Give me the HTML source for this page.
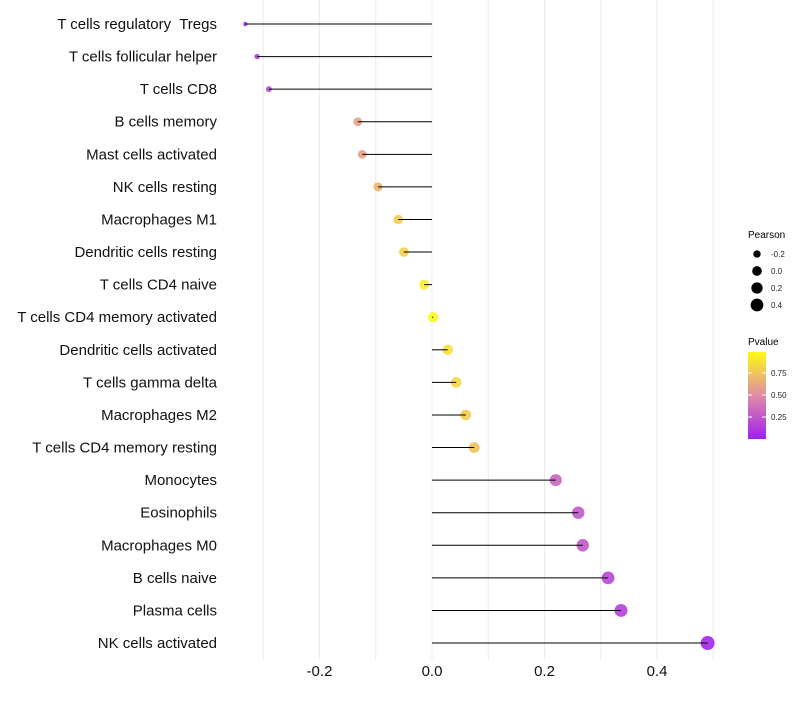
<!DOCTYPE html>
<html><head><meta charset="utf-8"><style>
body{margin:0;background:#fff;}
svg text{font-family:"Liberation Sans",sans-serif;white-space:pre;}
</style></head><body>
<svg id="chart" width="800" height="700"></svg>
<script>
const categories=["T cells regulatory  Tregs","T cells follicular helper","T cells CD8","B cells memory","Mast cells activated","NK cells resting","Macrophages M1","Dendritic cells resting","T cells CD4 naive","T cells CD4 memory activated","Dendritic cells activated","T cells gamma delta","Macrophages M2","T cells CD4 memory resting","Monocytes","Eosinophils","Macrophages M0","B cells naive","Plasma cells","NK cells activated"];
const pearson=[-0.332,-0.311,-0.29,-0.132,-0.124,-0.096,-0.06,-0.05,-0.014,0.002,0.028,0.043,0.06,0.075,0.22,0.26,0.268,0.313,0.336,0.49];
const pvalue=[0.12,0.14,0.2,0.6,0.6,0.68,0.8,0.82,0.95,0.99,0.88,0.84,0.8,0.75,0.32,0.26,0.27,0.18,0.15,0.03];
const xTicks=[-0.2,0,0.2,0.4];
const xTickLabels=["-0.2","0.0","0.2","0.4"];
const sizeLegend=[-0.2,0.0,0.2,0.4];
const sizeLegendLabels=["-0.2","0.0","0.2","0.4"];
const colorTicks=[0.25,0.5,0.75];
const colorTickLabels=["0.25","0.50","0.75"];

const NS="http://www.w3.org/2000/svg";
const svg=document.getElementById('chart');
const x=v=>432+v*562.5;
const y=i=>24+i*32.58;
const r=v=>1.7+5.3*Math.sqrt(Math.max(0,(v+0.34)/0.83));
function lerp(a,b,t){return a+(b-a)*t;}
function col(p){
  const s=[[0,[160,32,240]],[0.5,[223,140,165]],[1,[255,250,20]]];
  let k=p<0.5?0:1; const t=(p-s[k][0])/0.5;
  const c=s[k][1].map((v,j)=>Math.round(lerp(v,s[k+1][1][j],t)));
  return `rgb(${c.join(',')})`;
}
function el(tag,attrs,parent){const e=document.createElementNS(NS,tag);for(const k in attrs)e.setAttribute(k,attrs[k]);(parent||svg).appendChild(e);return e;}

for(let g=-0.3;g<=0.51;g+=0.1){
  const l=el('line',{x1:x(g),x2:x(g),y1:0,y2:660,stroke:'#ebebeb','stroke-width':1});
  
  
}
categories.forEach((c,i)=>{
  const t=el('text',{x:217,y:y(i)+5,'text-anchor':'end','font-size':15,fill:'#111'});
  t.textContent=c;
  
  
  const pt=el('circle',{cx:x(pearson[i]),cy:y(i),r:r(pearson[i]),fill:col(pvalue[i]),'fill-opacity':0.9});
  
  
  const ln=el('line',{x1:x(0),x2:x(pearson[i]),y1:y(i),y2:y(i),stroke:'#000','stroke-width':1});
  
  
});
xTicks.forEach((v,i)=>{
  const t=el('text',{x:x(v),y:676,'text-anchor':'middle','font-size':15,fill:'#111'});
  t.textContent=xTickLabels[i];
  
  
});
const st=el('text',{x:748,y:238,'font-size':10,fill:'#000'});st.textContent='Pearson';


sizeLegend.forEach((v,i)=>{
  const cy=254+i*17;
  const c=el('circle',{cx:757,cy:cy,r:r(v)*0.95,fill:'#000'});
  
  
  const t=el('text',{x:771,y:cy+3,'font-size':8,fill:'#222'});t.textContent=sizeLegendLabels[i];
  
  
});
const ct=el('text',{x:748,y:345,'font-size':10,fill:'#000'});ct.textContent='Pvalue';


const defs=el('defs',{});
const lg=el('linearGradient',{id:'pg',x1:0,y1:1,x2:0,y2:0},defs);
[0,0.25,0.5,0.75,1].forEach(s=>el('stop',{offset:s,'stop-color':col(s)},lg));
const bar=el('rect',{x:748,y:352,width:18,height:87,fill:'url(#pg)'});


const cy=p=>439-p*88;
colorTicks.forEach((v,i)=>{
  el('line',{x1:748,x2:752,y1:cy(v),y2:cy(v),stroke:'#fff'});
  el('line',{x1:762,x2:766,y1:cy(v),y2:cy(v),stroke:'#fff'});
  const t=el('text',{x:771,y:cy(v)+3,'font-size':8,fill:'#222'});t.textContent=colorTickLabels[i];
  
  
});
</script>
</body></html>
